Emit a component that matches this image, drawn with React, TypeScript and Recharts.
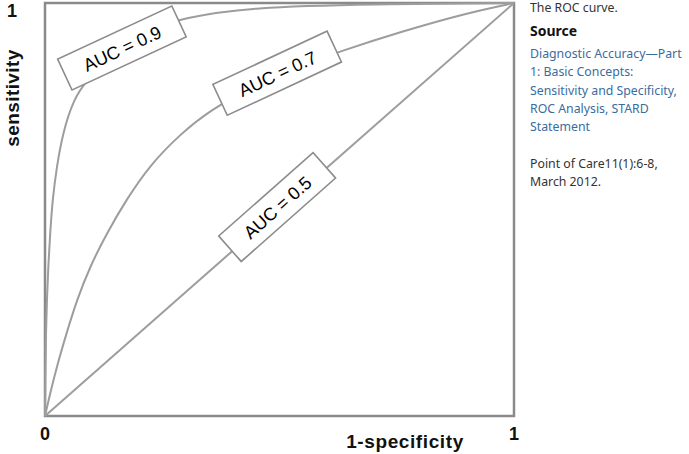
import React from "react";
import { LineChart, Line, XAxis, YAxis, ReferenceArea, ReferenceDot } from "recharts";

// ROC curves (x = 1-specificity, y = sensitivity)
const curveAuc09 = [
  { x: 0, y: 0 },
  { x: 0.001, y: 0.1 },
  { x: 0.002, y: 0.201 },
  { x: 0.004, y: 0.281 },
  { x: 0.007, y: 0.362 },
  { x: 0.011, y: 0.443 },
  { x: 0.016, y: 0.523 },
  { x: 0.025, y: 0.604 },
  { x: 0.038, y: 0.685 },
  { x: 0.06, y: 0.765 },
  { x: 0.09, y: 0.815 },
  { x: 0.14, y: 0.875 },
  { x: 0.22, y: 0.935 },
  { x: 0.294, y: 0.964 },
  { x: 0.437, y: 0.99 },
  { x: 0.7, y: 0.997 },
  { x: 1, y: 1 },
];

const curveAuc07 = [
  { x: 0, y: 0 },
  { x: 0.01, y: 0.05 },
  { x: 0.025, y: 0.119 },
  { x: 0.046, y: 0.201 },
  { x: 0.068, y: 0.281 },
  { x: 0.096, y: 0.362 },
  { x: 0.132, y: 0.443 },
  { x: 0.174, y: 0.525 },
  { x: 0.224, y: 0.608 },
  { x: 0.288, y: 0.682 },
  { x: 0.352, y: 0.741 },
  { x: 0.45, y: 0.802 },
  { x: 0.55, y: 0.85 },
  { x: 0.629, y: 0.883 },
  { x: 0.757, y: 0.93 },
  { x: 0.9, y: 0.976 },
  { x: 1, y: 1 },
];

const curveAuc05 = [
  { x: 0, y: 0 },
  { x: 1, y: 1 },
];

const aucLabels = [
  { text: "AUC = 0.9", x: 0.164, y: 0.891, angle: -25 },
  { text: "AUC = 0.7", x: 0.495, y: 0.83, angle: -25 },
  { text: "AUC = 0.5", x: 0.495, y: 0.506, angle: -41.5 },
];

const xTicks = [0, 1];
const yTicks = [1];

const sourceLines = [
  "Diagnostic Accuracy—Part",
  "1: Basic Concepts:",
  "Sensitivity and Specificity,",
  "ROC Analysis, STARD",
  "Statement",
];
const citationLines = ["Point of Care11(1):6-8,", "March 2012."];

const axisFont = "'Liberation Sans', Arial, sans-serif";
const curveColor = "#9d9d9d";

function XTick({ x, y, payload }: any) {
  return (
    <text x={x} y={y + 24} textAnchor="middle" fontSize={18} fontWeight="bold" fontFamily={axisFont} fill="#111">
      {payload.value}
    </text>
  );
}

function YTick({ y, payload }: any) {
  return (
    <text x={12} y={y + 14} textAnchor="middle" fontSize={18} fontWeight="bold" fontFamily={axisFont} fill="#111">
      {payload.value}
    </text>
  );
}

function AucBox({ cx, cy, text, angle }: any) {
  return (
    <g transform={`translate(${cx},${cy}) rotate(${angle})`}>
      <rect x={-63} y={-17} width={126} height={34} fill="#fff" stroke="#8c8c8c" strokeWidth={1.6} />
      <text x={0} y={1} textAnchor="middle" dominantBaseline="central" fontSize={18} fontFamily={axisFont} fill="#000">
        {text}
      </text>
    </g>
  );
}

export default function App() {
  return (
    <div style={{ position: "absolute", left: 0, top: 0, width: 689, height: 454, background: "#fff", overflow: "hidden" }}>
      <LineChart width={520} height={454} margin={{ top: 3, right: 6, bottom: 8, left: 5 }}>
        <XAxis
          type="number"
          dataKey="x"
          domain={[0, 1]}
          ticks={xTicks}
          interval={0}
          tick={<XTick />}
          tickLine={false}
          axisLine={false}
          tickSize={0}
          tickMargin={0}
          height={30}
          label={({ viewBox }: any) => (
            <text
              x={viewBox.x + 360}
              y={viewBox.y + 32}
              textAnchor="middle"
              fontSize={19}
              letterSpacing={0.6}
              fontWeight="bold"
              fontFamily={axisFont}
              fill="#111"
            >
              1-specificity
            </text>
          )}
        />
        <YAxis
          type="number"
          dataKey="y"
          domain={[0, 1]}
          ticks={yTicks}
          interval={0}
          tick={<YTick />}
          tickLine={false}
          axisLine={false}
          tickSize={0}
          tickMargin={0}
          width={40}
          label={({ viewBox }: any) => (
            <text
              x={viewBox.x + 7}
              y={viewBox.y + 95}
              transform={`rotate(-90, ${viewBox.x + 7}, ${viewBox.y + 95})`}
              textAnchor="middle"
              dominantBaseline="central"
              fontSize={19}
              letterSpacing={0.4}
              fontWeight="bold"
              fontFamily={axisFont}
              fill="#111"
            >
              sensitivity
            </text>
          )}
        />
        <Line data={curveAuc05} dataKey="y" type="linear" stroke={curveColor} strokeWidth={2} dot={false} isAnimationActive={false} />
        <Line data={curveAuc07} dataKey="y" type="basis" stroke={curveColor} strokeWidth={2} dot={false} isAnimationActive={false} />
        <Line data={curveAuc09} dataKey="y" type="basis" stroke={curveColor} strokeWidth={2} dot={false} isAnimationActive={false} />
        <ReferenceArea x1={0} x2={1} y1={0} y2={1} fill="none" fillOpacity={0} stroke="#8a8a8a" strokeWidth={2.5} />
        {aucLabels.map((l) => (
          <ReferenceDot
            key={l.text}
            x={l.x}
            y={l.y}
            r={1}
            shape={(p: any) => <AucBox cx={p.cx} cy={p.cy} text={l.text} angle={l.angle} />}
          />
        ))}
      </LineChart>
      <div
        style={{
          position: "absolute",
          left: 530,
          top: 0,
          width: 159,
          fontFamily: "'Noto Sans', 'Open Sans', sans-serif",
          fontSize: 12.3,
          lineHeight: "18.3px",
          color: "#333",
          whiteSpace: "nowrap",
        }}
      >
        <div style={{ position: "absolute", top: -1 }}>The ROC curve.</div>
        <div style={{ position: "absolute", top: 22, fontWeight: "bold", fontSize: 14, color: "#111" }}>Source</div>
        <div style={{ position: "absolute", top: 45, color: "#3a6ca0" }}>
          {sourceLines.map((s) => (
            <div key={s}>{s}</div>
          ))}
        </div>
        <div style={{ position: "absolute", top: 155 }}>
          {citationLines.map((s) => (
            <div key={s}>{s}</div>
          ))}
        </div>
      </div>
    </div>
  );
}
